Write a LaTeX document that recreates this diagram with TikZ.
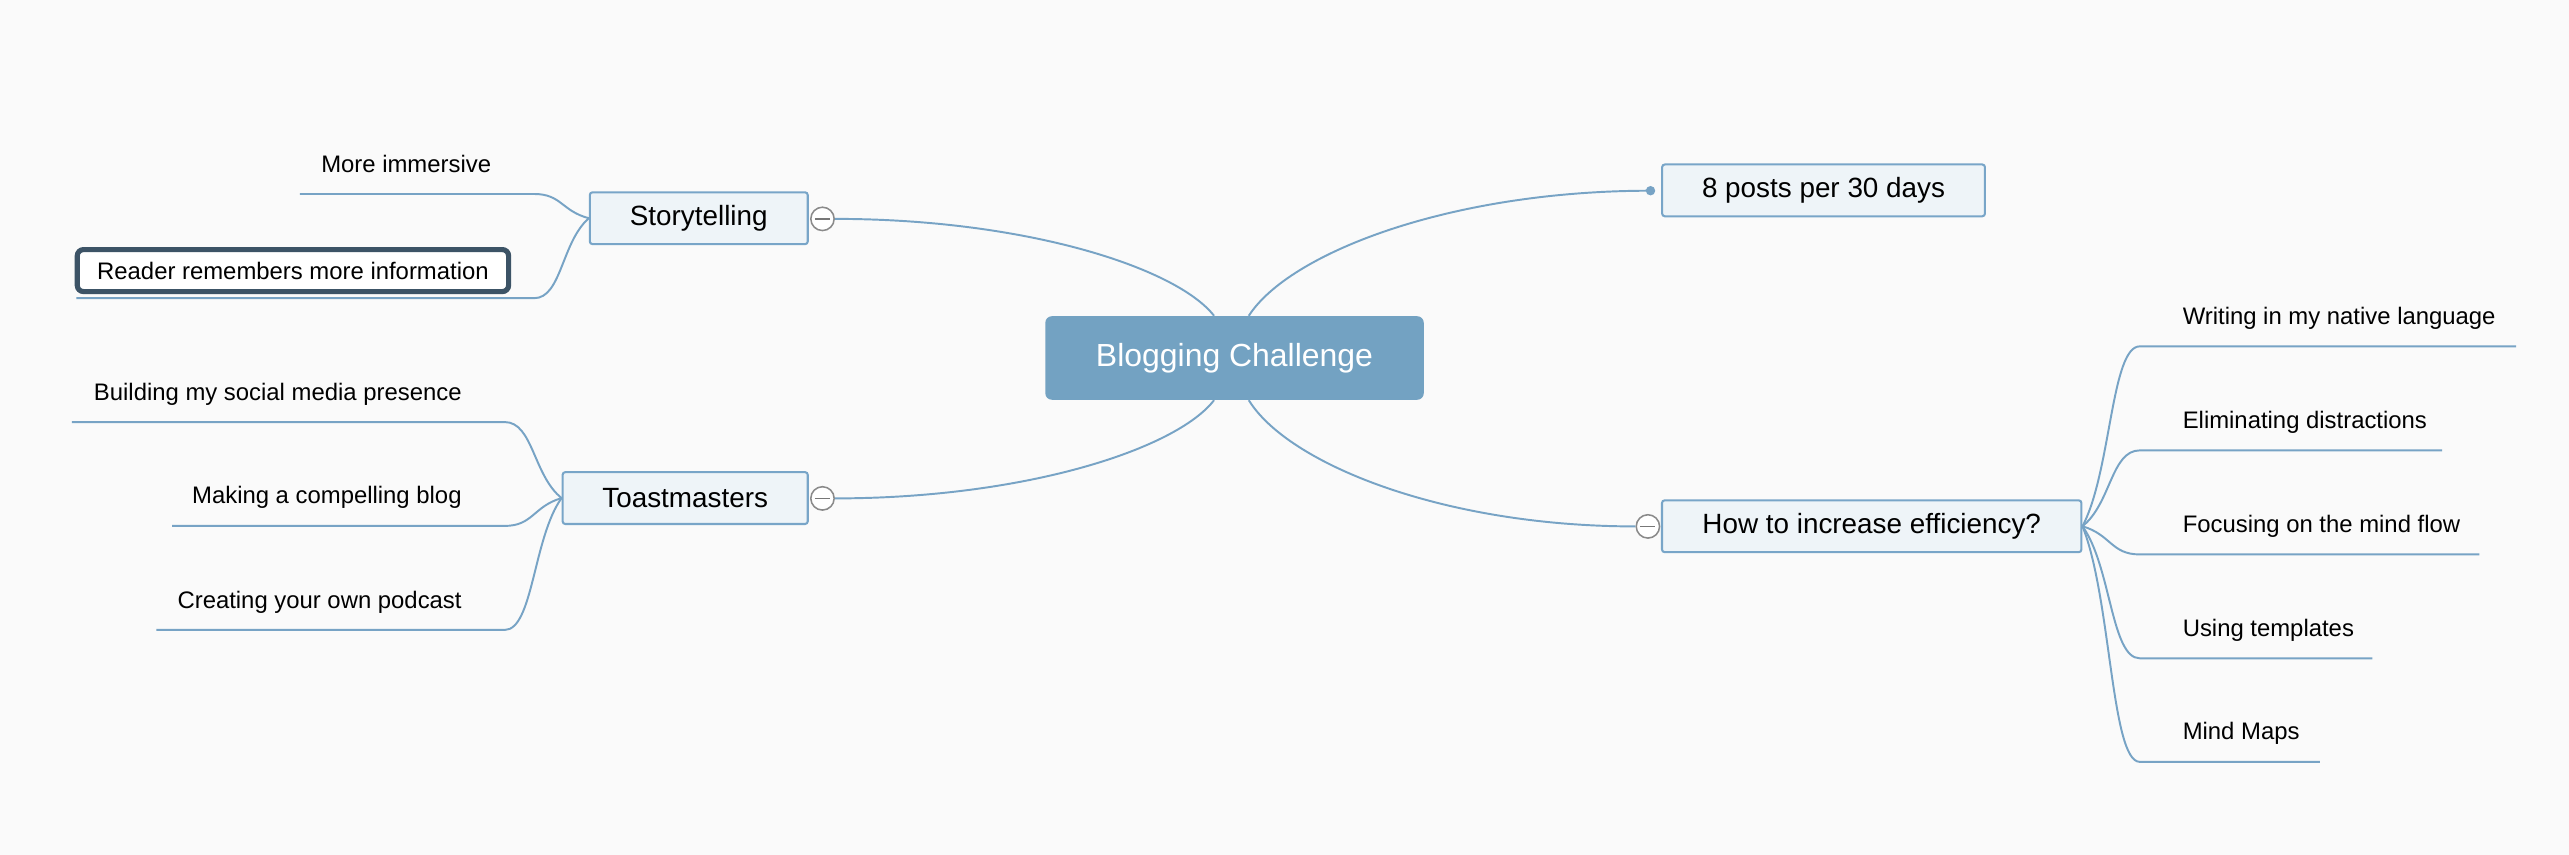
\documentclass[tikz,border=0pt]{standalone}
\usepackage{fontspec}
\setmainfont{Liberation Sans}
\usetikzlibrary{calc}
\definecolor{bgc}{HTML}{FAFAFA}
\definecolor{branchc}{HTML}{77A3C5}
\definecolor{centralc}{HTML}{73A2C2}
\definecolor{topicfill}{HTML}{EEF4F8}
\definecolor{topicline}{HTML}{78A5C8}
\definecolor{selc}{HTML}{3C5366}
\definecolor{colgray}{HTML}{8A8A8A}
\definecolor{mingray}{HTML}{777777}
\tikzset{
  centraltopic/.style={fill=centralc, rounded corners=3.2pt, text=white,
    font=\fontsize{15.6}{18}\selectfont, minimum width=184.8pt, minimum height=40.8pt, inner sep=0pt},
  maintopic/.style={draw=topicline, fill=topicfill, line width=1pt, rounded corners=1.3pt,
    font=\fontsize{13.6}{16}\selectfont, inner sep=0pt, minimum height=25.3pt},
  leaf/.style={font=\fontsize{11.66}{14}\selectfont, inner sep=0pt},
  readerbox/.style={leaf, draw=selc, line width=2.5pt, fill=white, rounded corners=3pt,
    minimum width=210.6pt, minimum height=20.5pt},
  branchline/.style={draw=branchc, line width=0.95pt},
  collapser/.style={circle, draw=colgray, fill=white, line width=0.75pt, minimum size=11.4pt, inner sep=0pt,
    path picture={\draw[mingray, line width=0.7pt]
      ($(path picture bounding box.west)+(2pt,0)$) -- ($(path picture bounding box.east)+(-2pt,0)$);}},
  enddot/.style={circle, fill=branchc, minimum size=4.6pt, inner sep=0pt},
  maincurve/.style={to path={let \p1=(\tikztostart), \p2=(\tikztotarget) in
    .. controls ({\x1+0.1*(\x2-\x1)},{\y1+0.5*(\y2-\y1)}) and ({\x1+0.5*(\x2-\x1)},\y2) .. (\tikztotarget)}},
  subcurve/.style={to path={let \p1=(\tikztostart), \p2=(\tikztotarget) in
    .. controls ({\x1+0.5*(\x2-\x1)},{\y1+0.3*(\y2-\y1)}) and ({\x1+0.5*(\x2-\x1)},\y2) .. (\tikztotarget)}}
}
\begin{document}
\begin{tikzpicture}[x=0.8pt,y=-0.8pt]
\fill[bgc] (0,0) rectangle (1568,521.85);
\useasboundingbox (0,0) rectangle (1568,521.85);

% topics
\node[centraltopic] (central) at (753.5,218.5) {Blogging Challenge};
\node[maintopic, minimum width=106.4pt] (story) at (426.5,133.2) {Storytelling};
\node[maintopic, minimum width=157.6pt] (posts) at (1113,116.2) {8 posts per 30 days};
\node[maintopic, minimum width=119.7pt] (toast) at (418.2,304) {Toastmasters};
\node[maintopic, minimum width=204.8pt] (how) at (1142.4,321.2) {How to increase efficiency?};

\node[collapser] (cs) at (502,133.6) {};
\node[collapser] (ct) at (502,304.2) {};
\node[collapser] (ch) at (1005.8,321.3) {};
\node[enddot] (pdot) at (1007.4,116.4) {};

% main branches
\draw[branchline] ($(central.north)+(-12.5,0)$) to[maincurve] (cs.east);
\draw[branchline] ($(central.north)+(8.7,0)$) to[maincurve] (pdot.center);
\draw[branchline] ($(central.south)+(-12.5,0)$) to[maincurve] (ct.east);
\draw[branchline] ($(central.south)+(8.7,0)$) to[maincurve] (ch.west);

% Storytelling children
\node[leaf, anchor=base east] (mi) at (300,105) {More immersive};
\node[readerbox] (rd) at (178.8,165.15) {Reader remembers more information};
\coordinate (mi-a) at (326,118.4); \coordinate (mi-b) at (183,118.4);
\coordinate (rd-a) at (326,182); \coordinate (rd-b) at (46.6,182);
\draw[branchline] (story.west) to[subcurve] (mi-a) -- (mi-b);
\draw[branchline] (story.west) to[subcurve] (rd-a) -- (rd-b);

% Toastmasters children
\node[leaf, anchor=base east] (bd) at (282,244.2) {Building my social media presence};
\node[leaf, anchor=base east] (mk) at (282,307.6) {Making a compelling blog};
\node[leaf, anchor=base east] (cr) at (282,371.1) {Creating your own podcast};
\coordinate (bd-a) at (308,257.6); \coordinate (bd-b) at (43.9,257.6);
\coordinate (mk-a) at (308,321); \coordinate (mk-b) at (105,321);
\coordinate (cr-a) at (308,384.5); \coordinate (cr-b) at (95.5,384.5);
\draw[branchline] (toast.west) to[subcurve] (bd-a) -- (bd-b);
\draw[branchline] (toast.west) to[subcurve] (mk-a) -- (mk-b);
\draw[branchline] (toast.west) to[subcurve] (cr-a) -- (cr-b);

% How to increase efficiency children
\node[leaf, anchor=base west] (wr) at (1332,198) {Writing in my native language};
\node[leaf, anchor=base west] (el) at (1332,261.5) {Eliminating distractions};
\node[leaf, anchor=base west] (fo) at (1332,325) {Focusing on the mind flow};
\node[leaf, anchor=base west] (us) at (1332,388.4) {Using templates};
\node[leaf, anchor=base west] (mm) at (1332,451.6) {Mind Maps};
\coordinate (wr-a) at (1306,211.4); \coordinate (wr-b) at (1535.7,211.4);
\coordinate (el-a) at (1306,274.9); \coordinate (el-b) at (1490.6,274.9);
\coordinate (fo-a) at (1306,338.4); \coordinate (fo-b) at (1513.3,338.4);
\coordinate (us-a) at (1306,401.8); \coordinate (us-b) at (1448,401.8);
\coordinate (mm-a) at (1306,465); \coordinate (mm-b) at (1416,465);
\draw[branchline] (how.east) to[subcurve] (wr-a) -- (wr-b);
\draw[branchline] (how.east) to[subcurve] (el-a) -- (el-b);
\draw[branchline] (how.east) to[subcurve] (fo-a) -- (fo-b);
\draw[branchline] (how.east) to[subcurve] (us-a) -- (us-b);
\draw[branchline] (how.east) to[subcurve] (mm-a) -- (mm-b);
\end{tikzpicture}
\end{document}
